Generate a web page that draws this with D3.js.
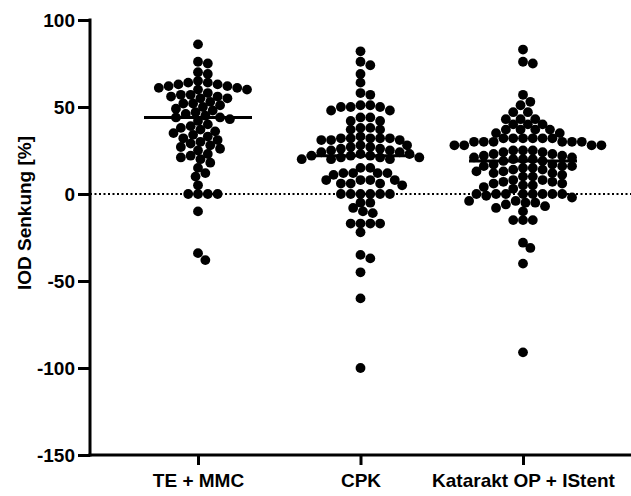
<!DOCTYPE html>
<html>
<head>
<meta charset="utf-8">
<script src="https://cdn.jsdelivr.net/npm/d3@7"></script>
<style>
  body { margin: 0; background: #fff; }
  svg text { font-family: "Liberation Sans", Arial, sans-serif; font-weight: bold; fill: #000; }
</style>
</head>
<body>
<div class="chart"></div>
<script>
// values
const groups = ['TE + MMC', 'CPK', 'Katarakt OP + IStent']

const teMmc = [86, 76, 75, 70, 69,
  65, 64, 64, 63, 63, 62, 62, 61, 61, 60, 60,
  58, 57, 57, 56, 56, 55, 55,
  53, 52, 52, 51, 50, 49, 48, 47, 46,
  45, 44, 44, 43, 42, 40, 39, 38,
  37, 36, 35, 34, 33, 32, 31, 30,
  29, 28, 27, 26, 25,
  23, 22, 21, 20, 18,
  15, 12, 10, 5,
  0, 0, 0, 0,
  -10, -34, -38]

const cpk = [82, 76, 74, 69, 64, 58, 57,
  51, 51, 50, 50, 50, 48, 48, 44, 44, 42, 42, 38, 38, 37, 37,
  33, 32, 32, 32, 31, 31, 31, 32, 32,
  28, 28, 27, 27, 26, 26, 25, 25, 24, 24,
  23, 23, 22, 22, 22, 21, 21, 21, 20, 20, 20,
  15, 15, 12, 12, 12, 11, 12,
  8, 8, 8, 8, 6, 6, 6, 5,
  0, 0, 0, 0, 0, 0,
  -5, -5, -8, -10, -11, -17, -17, -17, -17, -22, -35, -37, -45, -60, -100]

const katarakt = [83, 76, 75,
  57, 53, 51, 47, 47, 43, 43, 43, 40, 40, 40,
  37, 37, 37, 37, 35, 35,
  32, 32, 32, 32, 32, 32,
  30, 30, 30, 30, 30, 30, 28, 28, 28, 28,
  19, 19, 25, 25, 25, 24, 24, 23, 23, 22, 22, 21, 21, 20, 20, 20,
  17, 17, 16, 16, 16, 15, 15, 14, 14, 13, 13, 12, 12, 11, 10, 10,
  8, 8, 7, 7, 6, 6, 5, 5, 4, 3,
  0, 0, 0, 0, 0, 0, 0, 0, -1, -2,
  -4, -4, -5, -5, -6, -7, -8, -10,
  -15, -15, -15, -28, -31, -40, -91]

const yTicks = [-150, -100, -50, 0, 50, 100]

const series = [teMmc, cpk, katarakt]

const width = 631, height = 496
const axisX = 90, axisY = 455
const r = 4.9

let svg = d3.select('.chart').append('svg')
  .attr('width', width)
  .attr('height', height)

let y = d3.scaleLinear().domain([-150, 100]).range([axisY, 20])
let x = d3.scalePoint().domain(groups).range([198, 523])

// zero reference line
svg.append('line')
  .attr('x1', axisX).attr('x2', width)
  .attr('y1', y(0)).attr('y2', y(0))
  .attr('stroke', '#000').attr('stroke-width', 2)
  .attr('stroke-dasharray', '2,2.5')

// simple beeswarm: place each point as close to the centre as possible
function swarm(values, cx) {
  let placed = []
  let sorted = values.slice().sort((a, b) => b - a)
  let minD = r * 1.75
  sorted.forEach(v => {
    let py = y(v)
    let best = null
    for (let k = 0; k < 40 && best === null; k++) {
      let cands = k === 0 ? [0] : [k * 0.5, -k * 0.5]
      for (let dx of cands) {
        let px = cx + dx * r
        let ok = placed.every(p => (p.x - px) ** 2 + (p.y - py) ** 2 >= minD * minD)
        if (ok) { best = px; break }
      }
    }
    placed.push({ x: best, y: py })
  })
  return placed
}

series.forEach((vals, i) => {
  let cx = x(groups[i])
  svg.append('g').selectAll('circle')
    .data(swarm(vals, cx))
    .enter()
    .append('circle')
    .attr('cx', d => d.x)
    .attr('cy', d => d.y)
    .attr('r', r)
    .attr('fill', '#000')

  svg.append('line')
    .attr('x1', cx - 54).attr('x2', cx + 54)
    .attr('y1', y(d3.median(vals))).attr('y2', y(d3.median(vals)))
    .attr('stroke', '#000').attr('stroke-width', 3)
})

// y axis
let yAxis = svg.append('g')
  .attr('transform', `translate(${axisX},0)`)
  .call(d3.axisLeft(y).tickValues(yTicks).tickSize(12).tickPadding(3).tickFormat(d => String(d).replace('−', '-')))
yAxis.select('.domain').attr('stroke-width', 3).attr('d', `M0,${y(100) - 1.5}V${axisY + 1.5}`)
yAxis.selectAll('.tick line').attr('stroke-width', 3)
yAxis.selectAll('.tick text').style('font-size', '19px')

// x axis
let xAxis = svg.append('g')
  .attr('transform', `translate(0,${axisY})`)
  .call(d3.axisBottom(x).tickSize(10).tickPadding(8.5))
xAxis.select('.domain').attr('stroke-width', 3).attr('d', `M${axisX - 1.5},0H${width}`)
xAxis.selectAll('.tick line').attr('stroke-width', 3)
xAxis.selectAll('.tick text').style('font-size', '19px')

svg.append('text')
  .attr('transform', `translate(31,213) rotate(-90)`)
  .attr('text-anchor', 'middle')
  .style('font-size', '19px')
  .text('IOD Senkung [%]')
</script>
</body>
</html>
